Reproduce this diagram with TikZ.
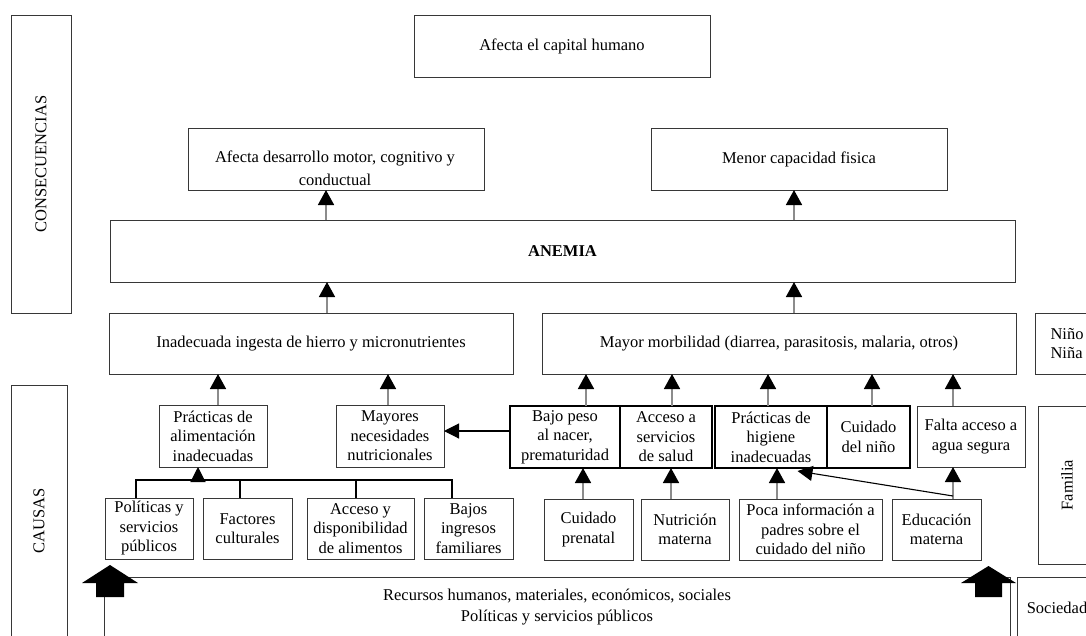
\documentclass[tikz,border=0pt]{standalone}
\usepackage{fontspec}
\setmainfont{Liberation Serif}
\usetikzlibrary{arrows.meta}
\definecolor{lgray}{RGB}{140,140,140}
\definecolor{bord}{RGB}{55,55,55}
\newcommand\myfs{\fontsize{16.5}{19.5}\selectfont}
\begin{document}
\begin{tikzpicture}[x=1pt,y=-1pt,
  every node/.style={font=\myfs, inner sep=0pt, outer sep=0pt},
  bx/.style={draw=bord, line width=0.9pt, align=center},
  tbx/.style={draw=black, line width=2pt, align=center, minimum height=62pt},
  garrow/.style={draw=lgray, line width=1.6pt, -{Triangle[width=16pt,length=15pt,color=black]}},
  barrow/.style={draw=black, line width=1.1pt, -{Triangle[width=15pt,length=15pt]}},
  bline/.style={draw=black, line width=1.1pt},
]
\useasboundingbox (0,0) rectangle (1086,635);
\clip (0,0) rectangle (1086,635);

% side labels
\node[bx, rotate=90, minimum width=298pt, minimum height=60pt] (con) at (41,164) {CONSECUENCIAS};
\node[bx, rotate=90, minimum width=272pt, minimum height=56pt] (cau) at (39,521) {CAUSAS};

% consequences
\node[bx, minimum width=296pt, minimum height=62pt] (cap) at (562,46) {Afecta el capital humano};
\node[bx, minimum width=296pt, minimum height=62pt] (des) at (336,159) {};
\node[align=center] (dest) at (335,168) {Afecta desarrollo motor, cognitivo y\\[3.5pt]conductual};
\node[bx, minimum width=296pt, minimum height=62pt] (men) at (799,159) {Menor capacidad fisica};
\node[bx, minimum width=905pt, minimum height=62pt, font=\myfs\bfseries] (ane) at (562.5,251) {ANEMIA};

% direct causes
\node[bx, minimum width=404pt, minimum height=61pt] (inad) at (311,343.5) {Inadecuada ingesta de hierro y micronutrientes};
\node[bx, minimum width=474pt, minimum height=61pt] (mor) at (779,343.5) {Mayor morbilidad (diarrea, parasitosis, malaria, otros)};
\node[bx, minimum width=64pt, minimum height=61pt, align=left] (nin) at (1067,343.5) {Niño\\Niña};

% middle row
\node[bx, minimum width=108pt, minimum height=62pt] (pal) at (213,436) {Prácticas de\\alimentación\\inadecuadas};
\node[bx, minimum width=108pt, minimum height=62pt] (may) at (390,436) {Mayores\\necesidades\\nutricionales};
\node[tbx, minimum width=110pt] (baj) at (565,437) {Bajo peso\\al nacer,\\prematuridad};
\node[tbx, minimum width=92pt] (acs) at (666,437) {Acceso a\\servicios\\de salud};
\node[tbx, minimum width=112pt] (hig) at (771,437) {Prácticas de\\higiene\\inadecuadas};
\node[tbx, minimum width=83pt] (cui) at (868.5,437) {Cuidado\\del niño};
\node[bx, minimum width=108pt, minimum height=61pt] (fal) at (971,436.5) {Falta acceso a\\agua segura};
\node[bx, rotate=90, minimum width=158pt, minimum height=58pt] (fam) at (1067,485) {Familia};

% bottom row
\node[bx, minimum width=88pt, minimum height=61pt] (pol) at (149,528.5) {Políticas y\\servicios\\públicos};
\node[bx, minimum width=89pt, minimum height=61pt] (fac) at (247.5,528.5) {Factores\\culturales};
\node[bx, minimum width=107pt, minimum height=61pt] (acd) at (360.5,528.5) {Acceso y\\disponibilidad\\de alimentos};
\node[bx, minimum width=89pt, minimum height=61pt] (bin) at (468.5,528.5) {Bajos\\ingresos\\familiares};
\node[bx, minimum width=89pt, minimum height=61pt] (cpr) at (588.5,529.5) {Cuidado\\prenatal};
\node[bx, minimum width=88pt, minimum height=61pt] (nut) at (685,529.5) {Nutrición\\materna};
\node[bx, minimum width=143pt, minimum height=61pt] (poc) at (810.5,529.5) {Poca información a\\padres sobre el\\cuidado del niño};
\node[bx, minimum width=89pt, minimum height=61pt] (edu) at (936.5,529.5) {Educación\\materna};

% society
\node[bx, minimum width=906pt, minimum height=61pt] (rec) at (557,607.5) {Recursos humanos, materiales, económicos, sociales\\[1.5pt]Políticas y servicios públicos};
\node[bx, minimum width=80pt, minimum height=62pt] (soc) at (1057,608) {Sociedad};

% block arrows
\fill[black] (96,597) -- (96,583) -- (82,583) -- (110,565) -- (138,583) -- (124,583) -- (124,597) -- cycle;
\fill[black] (975,597) -- (975,583) -- (961,583) -- (988.5,566) -- (1016,583) -- (1002,583) -- (1002,597) -- cycle;

% gray arrows
\draw[garrow] ([xshift=-10pt]des.south |- ane.north) -- ([xshift=-10pt]des.south);
\draw[garrow] ([xshift=-5pt]men.south |- ane.north) -- ([xshift=-5pt]men.south);
\draw[garrow] ([xshift=16pt]inad.north) -- ([xshift=16pt]inad.north |- ane.south);
\draw[garrow] ([xshift=15pt]mor.north) -- ([xshift=15pt]mor.north |- ane.south);
\draw[garrow] ([xshift=5pt]pal.north) -- ([xshift=5pt]pal.north |- inad.south);
\draw[garrow] ([xshift=-2pt]may.north) -- ([xshift=-2pt]may.north |- inad.south);
\draw[garrow] ([xshift=21pt]baj.north) -- ([xshift=21pt]baj.north |- mor.south);
\draw[garrow] ([xshift=6pt]acs.north) -- ([xshift=6pt]acs.north |- mor.south);
\draw[garrow] ([xshift=-3pt]hig.north) -- ([xshift=-3pt]hig.north |- mor.south);
\draw[garrow] ([xshift=3.5pt]cui.north) -- ([xshift=3.5pt]cui.north |- mor.south);
\draw[garrow] ([xshift=-18pt]fal.north) -- ([xshift=-18pt]fal.north |- mor.south);
\draw[garrow] ([xshift=-5.5pt]cpr.north) -- ([xshift=-5.5pt]cpr.north |- baj.south);
\draw[garrow] ([xshift=-14pt]nut.north) -- ([xshift=-14pt]nut.north |- acs.south);
\draw[garrow] ([xshift=-33.5pt]poc.north) -- ([xshift=-33.5pt]poc.north |- hig.south);
\draw[garrow] ([xshift=16.5pt]edu.north) -- ([xshift=16.5pt]edu.north |- fal.south);

% black connectors
\draw[barrow] ([yshift=6pt]baj.west) -- ([yshift=6pt]baj.west -| may.east);
\draw[barrow] ([xshift=16.5pt,yshift=3pt]edu.north) -- ([xshift=26.5pt,yshift=-3pt]hig.south);
\draw[bline] ([xshift=-13pt]pol.north) -- ++(0,-18) -| ([xshift=-16.5pt]bin.north);
\draw[bline] ([xshift=-7.5pt]fac.north) -- ++(0,-18);
\draw[bline] ([xshift=-4.5pt]acd.north) -- ++(0,-18);
\draw[barrow] ([xshift=-15pt,yshift=-13pt]pal.south) -- ([xshift=-15pt]pal.south);
\end{tikzpicture}
\end{document}
